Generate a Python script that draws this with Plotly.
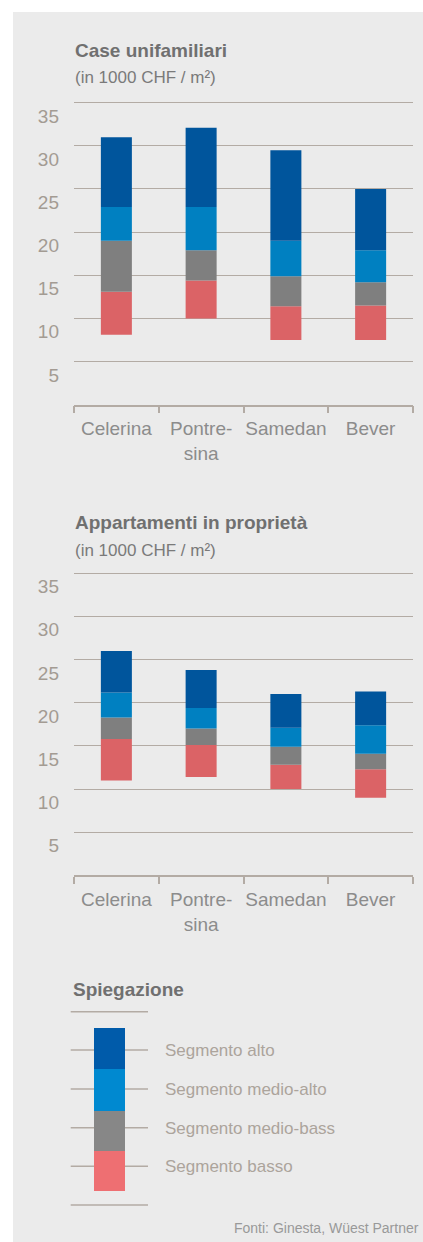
import plotly.graph_objects as go

# ---------------- data ----------------
categories = ["Celerina", "Pontre-<br>sina", "Samedan", "Bever"]
segments = ["Segmento alto", "Segmento medio-alto", "Segmento medio-bass", "Segmento basso"]

# Case unifamiliari (1000 CHF / m2): segment boundaries
cu_min = [8.1, 10.0, 7.5, 7.5]
cu_basso_max = [13.1, 14.4, 11.4, 11.5]
cu_medio_basso_max = [19.0, 17.9, 14.9, 14.2]
cu_medio_alto_max = [22.9, 22.9, 19.0, 17.9]
cu_alto_max = [31.0, 32.1, 29.5, 25.0]

# Appartamenti in proprietà (1000 CHF / m2): segment boundaries
ap_min = [11.0, 11.4, 10.0, 9.0]
ap_basso_max = [15.8, 15.1, 12.8, 12.3]
ap_medio_basso_max = [18.3, 17.0, 14.9, 14.1]
ap_medio_alto_max = [21.2, 19.4, 17.1, 17.4]
ap_alto_max = [26.0, 23.8, 21.0, 21.3]

y_ticks = [5, 10, 15, 20, 25, 30, 35]

# ---------------- styles ----------------
W, H = 423, 1242
FONT = "Liberation Sans, Arial, sans-serif"
C_ALTO, C_MALTO, C_MBASS, C_BASSO = "#00559C", "#0080C1", "#7F7F7F", "#DB6366"
L_ALTO, L_MALTO, L_MBASS, L_BASSO = "#005BAA", "#0089D0", "#878787", "#EE6F72"
PANEL = "#EBEBEB"
GRID = "#B3ABA4"
TICKTXT = "#A39B93"
CATTXT = "#8C8C8C"


def px_x(p):
    return p / W


def px_y(p):
    return (H - p) / H


fig = go.Figure()


def add_stack(xa, ya, lo, b, mb, ma, hi):
    layers = [
        (lo, b, C_BASSO, segments[3]),
        (b, mb, C_MBASS, segments[2]),
        (mb, ma, C_MALTO, segments[1]),
        (ma, hi, C_ALTO, segments[0]),
    ]
    for base, top, col, name in layers:
        fig.add_trace(go.Bar(
            x=categories, y=[t - s for s, t in zip(base, top)], base=base,
            width=0.366, marker=dict(color=col, line=dict(width=0)),
            name=name, showlegend=False, xaxis=xa, yaxis=ya,
            hovertemplate="%{x}: %{base:.1f}–%{y:.1f}<extra>" + name + "</extra>",
        ))


add_stack("x", "y", cu_min, cu_basso_max, cu_medio_basso_max, cu_medio_alto_max, cu_alto_max)
add_stack("x2", "y2", ap_min, ap_basso_max, ap_medio_basso_max, ap_medio_alto_max, ap_alto_max)

UNIT = (404.7 - 102.7) / 35.0
YMAX = 35.4


def yaxis_cfg(zero_px):
    top_px = zero_px - YMAX * UNIT
    return dict(
        domain=[px_y(zero_px), px_y(top_px)], range=[0, YMAX],
        tickvals=y_ticks, ticks="", showgrid=True, gridcolor=GRID, gridwidth=1.2,
        zeroline=False, showline=False, fixedrange=True,
        tickfont=dict(family=FONT, size=19, color=TICKTXT),
        ticklabelposition="outside bottom", ticklabelstandoff=14,
    )


def xaxis_cfg(anchor):
    return dict(
        domain=[px_x(74), px_x(413)], type="category", range=[-0.5, 3.5],
        showline=True, linecolor=GRID, linewidth=1.5, ticks="outside",
        tickson="boundaries", ticklen=7, tickwidth=1.5, tickcolor=GRID,
        showgrid=False, zeroline=False, anchor=anchor, fixedrange=True, tickangle=0,
        tickfont=dict(family=FONT, size=19, color=CATTXT), ticklabelstandoff=6,
    )


shapes = [
    dict(type="rect", xref="paper", yref="paper", x0=px_x(13), x1=1.0,
         y0=0, y1=px_y(12), fillcolor=PANEL, line=dict(width=0), layer="below"),
]

# legend swatch
for yp in [1011.7, 1050, 1089, 1127.7, 1166.3, 1205]:
    shapes.append(dict(type="line", xref="paper", yref="paper", x0=px_x(70.7), x1=px_x(148),
                       y0=px_y(yp), y1=px_y(yp), line=dict(color=GRID, width=1.5)))
for (t, b, col) in [(1028, 1069, L_ALTO), (1069, 1111, L_MALTO), (1111, 1151, L_MBASS), (1151, 1191, L_BASSO)]:
    shapes.append(dict(type="rect", xref="paper", yref="paper", x0=px_x(94), x1=px_x(125),
                       y0=px_y(b), y1=px_y(t), fillcolor=col, line=dict(width=0)))

annotations = []


def text(s, xp, yp, size, color, bold=False, xanchor="left"):
    annotations.append(dict(
        text=("<b>%s</b>" % s) if bold else s, xref="paper", yref="paper",
        x=px_x(xp), y=px_y(yp), xanchor=xanchor, yanchor="middle", showarrow=False,
        font=dict(family=FONT, size=size, color=color),
    ))


text("Case unifamiliari", 73, 51, 19, "#707070", bold=True)
text("(in 1000 CHF / m²)", 73, 78, 17, "#7A7A7A")
text("Appartamenti in proprietà", 73, 522, 19, "#707070", bold=True)
text("(in 1000 CHF / m²)", 73, 550, 17, "#7A7A7A")
text("Spiegazione", 71, 989, 19, "#707070", bold=True)
for lbl, yp in zip(segments, [1050, 1089, 1128, 1166]):
    text(lbl, 163, yp, 17, "#ACA49C")
text("Fonti: Ginesta, Wüest Partner", 421, 1228, 14, "#999999", xanchor="right")

fig.update_layout(
    width=W, height=H, margin=dict(l=0, r=0, t=0, b=0, pad=0),
    paper_bgcolor="white", plot_bgcolor="rgba(0,0,0,0)",
    barmode="overlay", showlegend=False,
    xaxis=xaxis_cfg("y"), yaxis=yaxis_cfg(404.7),
    xaxis2=xaxis_cfg("y2"), yaxis2=yaxis_cfg(875.3),
    shapes=shapes, annotations=annotations,
    font=dict(family=FONT),
)

fig.write_html(
    "out.html",
    config={"displayModeBar": False},
    post_script="document.body.style.margin='0';document.body.style.overflow='hidden';",
)
